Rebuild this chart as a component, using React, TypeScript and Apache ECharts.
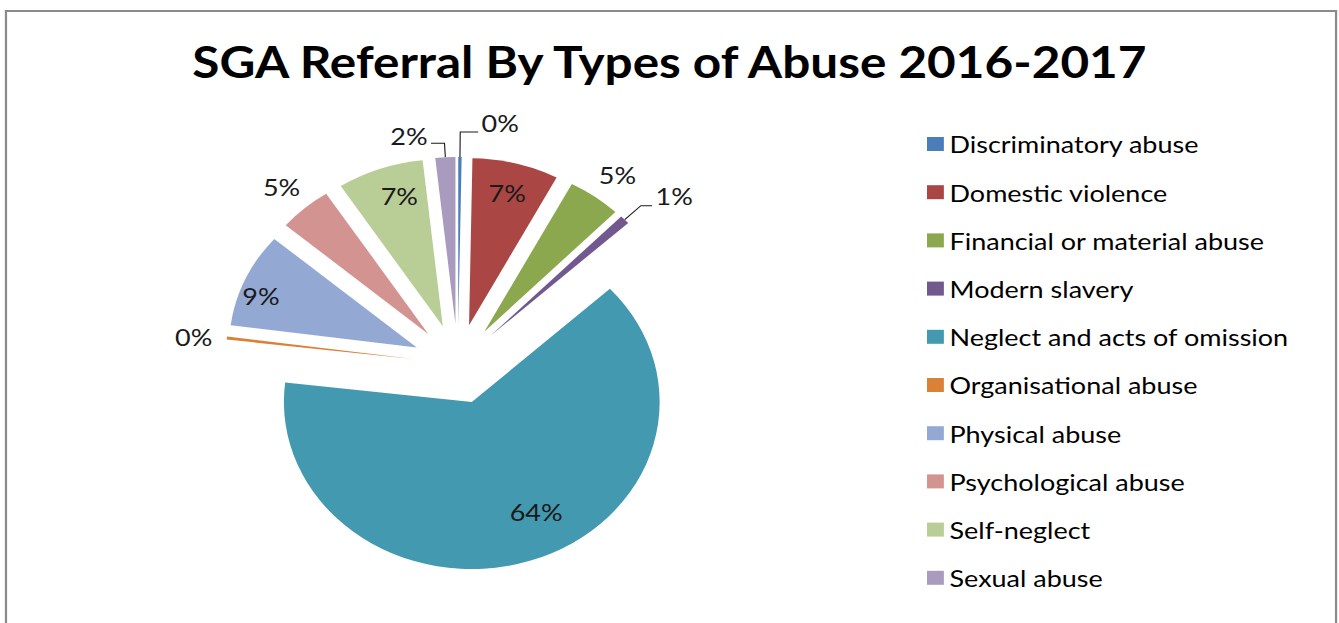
import React, { useEffect, useRef } from 'react';
import * as echarts from 'echarts';

const chartTitle = 'SGA Referral By Types of Abuse 2016-2017';
const categories = [
  'Discriminatory abuse',
  'Domestic violence',
  'Financial or material abuse',
  'Modern slavery',
  'Neglect and acts of omission',
  'Organisational abuse',
  'Physical abuse',
  'Psychological abuse',
  'Self-neglect',
  'Sexual abuse',
];
const referrals = [1, 26, 16, 3, 223, 1, 32, 16, 26, 6];
const sliceColors = [
  '#4A7EBB',
  '#AA4644',
  '#8BA84F',
  '#71588F',
  '#4399B0',
  '#DA8137',
  '#93A9D3',
  '#D39391',
  '#B9CD96',
  '#A99BBD',
];

// inside labels: text padding [top, right, bottom, left] nudges the label like Excel's best-fit placement
const insideStyle: Record<string, number[]> = {
  'Domestic violence': [0, 0, 0, 0],
  'Neglect and acts of omission': [0, 0, 40, 30],
  'Physical abuse': [8, 28, 0, 0],
  'Self-neglect': [0, 0, 4, 14],
};

// outside labels: label line style and padding per slice
const outsideStyle: Record<string, { length: number; length2: number; line: boolean; dist: number; pad: number[] }> = {
  'Discriminatory abuse': { length: 25, length2: 16, line: true, dist: 3, pad: [0, 0, 18, 0] },
  'Financial or material abuse': { length: 6, length2: 0, line: false, dist: 0, pad: [0, 0, 34, 0] },
  'Modern slavery': { length: 20, length2: 10, line: true, dist: 3, pad: [0, 0, 20, 0] },
  'Organisational abuse': { length: 10, length2: 0, line: false, dist: 3, pad: [0, 0, 0, 0] },
  'Psychological abuse': { length: 6, length2: 0, line: false, dist: 0, pad: [0, 0, 34, 2] },
  'Sexual abuse': { length: 14, length2: 12, line: true, dist: 3, pad: [0, 0, 16, 0] },
};

const STRETCH = 1.125;
const FONT = 'Lato, "Open Sans", sans-serif';

export default function App() {
  const ref = useRef<HTMLDivElement>(null);
  useEffect(() => {
    if (!ref.current) return;
    const chart = echarts.init(ref.current, undefined, { renderer: 'svg' });
    const fmt = (p: any) => `{s${p.dataIndex}|${Math.round(p.percent)}%}`;
    const center = [407, 364];
    const radius = 167;
    const offset = 40;

    const textBase = { fontFamily: FONT, fontSize: 24, color: '#1a1a1a' };
    const richOuter: Record<string, any> = {};
    const richInner: Record<string, any> = {};
    categories.forEach((name, i) => {
      const o = outsideStyle[name];
      richOuter['s' + i] = { ...textBase, padding: o ? o.pad : [0, 0, 0, 0] };
      richInner['s' + i] = { ...textBase, padding: insideStyle[name] || [0, 0, 0, 0] };
    });

    const mainData = categories.map((name, i) => {
      const o = outsideStyle[name];
      return {
        name,
        value: referrals[i],
        selected: true,
        itemStyle: { color: sliceColors[i] },
        label: o ? { show: true, position: 'outside', distanceToLabelLine: o.dist } : { show: false },
        labelLine: o
          ? { show: o.line, length: o.length, length2: o.length2, lineStyle: { color: '#1a1a1a', width: 1 } }
          : { show: false },
      };
    });
    const labelData = categories.map((name, i) => ({
      name,
      value: referrals[i],
      selected: true,
      itemStyle: { color: 'rgba(0,0,0,0)' },
      label: { show: !!insideStyle[name] },
    }));

    chart.setOption({
      animation: false,
      color: sliceColors,
      title: {
        text: chartTitle,
        left: 'center',
        top: 34,
        textStyle: { fontFamily: FONT, fontSize: 44, fontWeight: 'bold', color: '#000' },
      },
      legend: {
        orient: 'vertical',
        left: 824,
        top: 132,
        padding: 0,
        itemWidth: 15,
        itemHeight: 14,
        itemGap: 24.2,
        icon: 'rect',
        data: categories,
        selectedMode: false,
        textStyle: { fontFamily: FONT, fontSize: 24, lineHeight: 24, color: '#000' },
      },
      graphic: [
        {
          type: 'rect',
          shape: { x: 5.3, y: 11, width: 1182.3, height: 700 },
          style: { fill: 'none', stroke: '#8a8a8a', lineWidth: 2 },
          silent: true,
        },
      ],
      series: [
        {
          type: 'pie',
          center,
          radius,
          startAngle: 90,
          clockwise: true,
          selectedMode: 'multiple',
          selectedOffset: offset,
          avoidLabelOverlap: false,
          emphasis: { scale: false },
          label: { ...textBase, formatter: fmt, rich: richOuter },
          itemStyle: { borderWidth: 0 },
          data: mainData,
        },
        {
          type: 'pie',
          center,
          radius: [100, radius],
          startAngle: 90,
          clockwise: true,
          selectedMode: 'multiple',
          selectedOffset: offset,
          avoidLabelOverlap: false,
          silent: true,
          emphasis: { scale: false },
          label: { ...textBase, position: 'inside', formatter: fmt, rich: richInner },
          labelLine: { show: false },
          data: labelData,
        },
      ],
    });
    return () => chart.dispose();
  }, []);

  return (
    <div
      ref={ref}
      style={{
        position: 'fixed',
        left: 0,
        top: 0,
        width: 1339 / STRETCH + 'px',
        height: '623px',
        transform: `scaleX(${STRETCH})`,
        transformOrigin: '0 0',
        background: '#fff',
      }}
    />
  );
}
